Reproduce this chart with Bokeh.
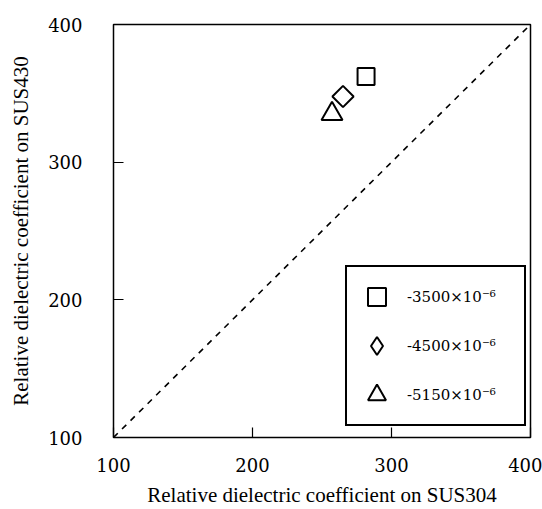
from bokeh.plotting import figure
from bokeh.models import FixedTicker, Range1d, Legend, LegendItem
from bokeh.embed import file_html
from bokeh.resources import INLINE
import math

# data
series_labels = ["-3500×10⁻⁶", "-4500×10⁻⁶", "-5150×10⁻⁶"]
sus304 = [281.7, 265.1, 257.2]
sus430 = [362.2, 347.7, 335.0]
ref_line_x = [100, 400]
ref_line_y = [100, 400]
ticks = [100, 200, 300, 400]

TITLE_FONT = "Liberation Serif"
TICK_FONT = "DejaVu Serif"

p = figure(width=542, height=509, output_backend="svg", toolbar_location=None,
           x_range=Range1d(100, 400), y_range=Range1d(100, 400),
           min_border_left=113, min_border_right=12, min_border_top=24, min_border_bottom=71)
p.grid.visible = False
p.outline_line_color = "black"
p.outline_line_width = 1.5
p.outline_line_alpha = 1

for ax in (p.xaxis[0], p.yaxis[0]):
    ax.ticker = FixedTicker(ticks=ticks)
    ax.axis_line_color = None
    ax.major_tick_in = 10
    ax.major_tick_out = 0
    ax.minor_tick_line_color = None
    ax.major_tick_line_color = "black"
    ax.major_tick_line_width = 1.2
    ax.major_label_text_font = TICK_FONT
    ax.major_label_text_font_size = "18px"
    ax.major_label_text_color = "black"
    ax.axis_label_text_font = TITLE_FONT
    ax.axis_label_text_font_style = "normal"
    ax.axis_label_text_font_size = "21px"
    ax.axis_label_text_color = "black"

p.xaxis.axis_label = "Relative dielectric coefficient on SUS304"
p.yaxis.axis_label = "Relative dielectric coefficient on SUS430"
p.xaxis.major_label_standoff = 20
p.xaxis.axis_label_standoff = 8
p.yaxis.major_label_standoff = 31
p.yaxis.axis_label_standoff = 12

p.line(ref_line_x, ref_line_y, line_color="black", line_width=1.6, line_dash="6 6")

r_sq = p.scatter([sus304[0]], [sus430[0]], marker="square", size=17,
                 fill_color=None, line_color="black", line_width=2)
r_di = p.scatter([sus304[1]], [sus430[1]], marker="square", size=15, angle=math.pi / 4,
                 fill_color=None, line_color="black", line_width=2)
r_tr = p.scatter([sus304[2]], [sus430[2]], marker="triangle", size=21,
                 fill_color=None, line_color="black", line_width=2)
# legend swatch for the diamond (legend glyphs are never rotated); not drawn in the plot
r_di_key = p.scatter([float("nan")], [float("nan")], marker="diamond", size=15,
                     fill_color=None, line_color="black", line_width=2)

legend = Legend(items=[LegendItem(label=series_labels[0], renderers=[r_sq]),
                       LegendItem(label=series_labels[1], renderers=[r_di_key]),
                       LegendItem(label=series_labels[2], renderers=[r_tr])],
                location=(232, 11))
legend.glyph_width = 45
legend.glyph_height = 45
legend.spacing = 4
legend.padding = 7
legend.label_standoff = 8
legend.label_width = 110
legend.label_text_font = TICK_FONT
legend.label_text_font_size = "15px"
legend.label_text_color = "black"
legend.border_line_color = "black"
legend.border_line_width = 2
legend.border_line_alpha = 1
legend.background_fill_color = "white"
legend.background_fill_alpha = 1
legend.margin = 0
p.add_layout(legend)

open("out.html", "w").write(file_html(p, INLINE))
